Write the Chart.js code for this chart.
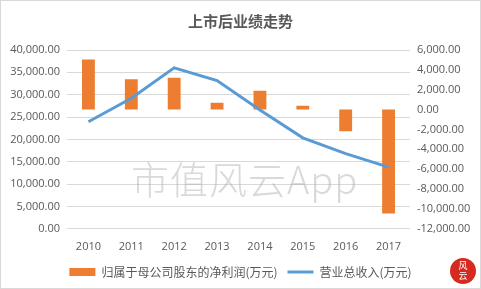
<!DOCTYPE html>
<html>
<head>
<meta charset="utf-8">
<script src="https://cdn.jsdelivr.net/npm/chart.js@4"></script>
<style>
   html, body { margin: 0; padding: 0; background: #fff; }
   .wrap { position: relative; width: 481px; height: 289px; box-sizing: border-box; border: 1px solid #d9d9d9; }
   canvas { position: absolute; left: 0; top: 0; }
   .mark { position: absolute; left: 130px; top: 149px; font: 300 38px "Noto Sans CJK SC", "DejaVu Serif", serif; color: rgba(170,170,170,0.45); letter-spacing: 1px; pointer-events: none; }
   .logo { position: absolute; left: 449px; top: 257px; width: 26px; height: 26px; border-radius: 50%; background: #d42a20; color: #fff; font: 9px "Noto Sans CJK SC"; line-height: 10px; text-align: center; padding-top: 3px; box-sizing: border-box; }
</style>
</head>
<body>
<div class="wrap">
   <canvas id="myChart" width="479" height="287"></canvas>
   <div class="mark">市值风云App</div>
   <div class="logo">风<br>云</div>
</div>
<script>
// ==========================================
// Data
// ==========================================

const years = ["2010", "2011", "2012", "2013", "2014", "2015", "2016", "2017"];
// 归属于母公司股东的净利润 (right axis)
const netProfit = [5050, 3050, 3200, 700, 1900, 400, -2170, -10450];
// 营业总收入 (left axis)
const revenue = [23950, 29200, 36000, 33150, 26600, 20340, 16800, 13800];

const textColor = "#595959";
const cjk = "'Noto Sans CJK SC', 'Open Sans', sans-serif";

function fmt(v) {
   return v.toLocaleString("en-US", { minimumFractionDigits: 2, maximumFractionDigits: 2 });
}

// ==========================================
// Chart
// ==========================================

const ctx = document.getElementById("myChart");

let chart = new Chart(ctx, {
   type: "bar",
   data: {
      labels: years,
      datasets: [{
         type: "bar",
         label: "归属于母公司股东的净利润(万元)",
         data: netProfit,
         yAxisID: "y1",
         backgroundColor: "#ED7D31",
         borderWidth: 0,
         barPercentage: 0.3,
         categoryPercentage: 1,
         order: 2,
         pointStyle: "rect"
      }, {
         type: "line",
         label: "营业总收入(万元)",
         data: revenue,
         yAxisID: "y",
         borderColor: "#5B9BD5",
         backgroundColor: "#5B9BD5",
         borderWidth: 3,
         pointRadius: 0,
         tension: 0,
         order: 1,
         pointStyle: "line"
      }]
   },
   options: {
      responsive: false,
      animation: false,
      layout: { padding: { left: 0, right: 0, top: 0, bottom: 0 } },
      plugins: {
         title: {
            display: true,
            text: "上市后业绩走势",
            color: textColor,
            font: { family: cjk, size: 15, weight: "bold" },
            padding: { top: 11, bottom: 20 }
         },
         legend: {
            position: "bottom",
            labels: {
               color: textColor,
               font: { family: cjk, size: 12 },
               usePointStyle: true,
               pointStyleWidth: 26,
               boxHeight: 8,
               padding: 10,
               sort: (a, b) => a.datasetIndex - b.datasetIndex
            }
         },
         tooltip: { enabled: false }
      },
      scales: {
         x: {
            grid: { display: false },
            border: { display: false },
            ticks: { color: textColor, font: { family: "'Open Sans', sans-serif", size: 11 }, padding: 3 }
         },
         y: {
            position: "left",
            min: 0,
            max: 40000,
            ticks: { stepSize: 5000, color: textColor, font: { family: "'Open Sans', sans-serif", size: 11 }, padding: 7, callback: v => fmt(v) },
            grid: { color: "#d9d9d9", drawTicks: false },
            border: { display: false },
            afterFit: scale => { scale.width = 66; }
         },
         y1: {
            position: "right",
            min: -12000,
            max: 6000,
            ticks: { stepSize: 2000, color: textColor, font: { family: "'Open Sans', sans-serif", size: 11 }, padding: 7, callback: v => fmt(v) },
            grid: { display: false, drawTicks: false },
            border: { display: false },
            afterFit: scale => { scale.width = 70; }
         }
      }
   }
});
</script>
</body>
</html>
